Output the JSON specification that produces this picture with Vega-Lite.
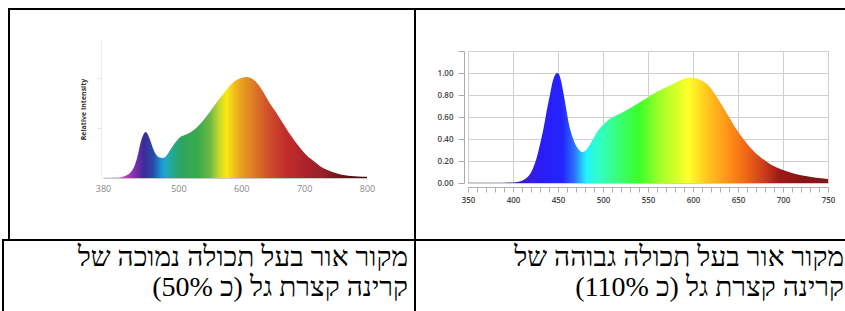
{
  "$schema": "https://vega.github.io/schema/vega-lite/v6.json",
  "width": 845,
  "height": 311,
  "autosize": {"type": "none"},
  "padding": 0,
  "background": "white",
  "config": {"view": {"stroke": null}},
  "datasets": {
    "low": [
      {"wl": 380, "v": 0.003}, {"wl": 390, "v": 0.003}, {"wl": 400, "v": 0.004}, {"wl": 405, "v": 0.006},
      {"wl": 410, "v": 0.01}, {"wl": 415, "v": 0.02}, {"wl": 420, "v": 0.035}, {"wl": 425, "v": 0.065},
      {"wl": 430, "v": 0.12}, {"wl": 435, "v": 0.22}, {"wl": 440, "v": 0.36}, {"wl": 444, "v": 0.43},
      {"wl": 448, "v": 0.46}, {"wl": 451, "v": 0.44}, {"wl": 455, "v": 0.38}, {"wl": 460, "v": 0.29},
      {"wl": 465, "v": 0.23}, {"wl": 470, "v": 0.205}, {"wl": 474, "v": 0.2}, {"wl": 478, "v": 0.205},
      {"wl": 484, "v": 0.25}, {"wl": 490, "v": 0.31}, {"wl": 497, "v": 0.37}, {"wl": 503, "v": 0.41},
      {"wl": 510, "v": 0.43}, {"wl": 520, "v": 0.46}, {"wl": 530, "v": 0.51}, {"wl": 540, "v": 0.58},
      {"wl": 550, "v": 0.66}, {"wl": 560, "v": 0.75}, {"wl": 570, "v": 0.83}, {"wl": 580, "v": 0.91},
      {"wl": 590, "v": 0.97}, {"wl": 600, "v": 1.0}, {"wl": 608, "v": 1.01}, {"wl": 615, "v": 1.0},
      {"wl": 625, "v": 0.95}, {"wl": 635, "v": 0.86}, {"wl": 645, "v": 0.75}, {"wl": 655, "v": 0.66},
      {"wl": 665, "v": 0.56}, {"wl": 675, "v": 0.46}, {"wl": 685, "v": 0.37}, {"wl": 695, "v": 0.29},
      {"wl": 705, "v": 0.22}, {"wl": 715, "v": 0.17}, {"wl": 725, "v": 0.12}, {"wl": 735, "v": 0.085},
      {"wl": 745, "v": 0.06}, {"wl": 755, "v": 0.04}, {"wl": 765, "v": 0.028}, {"wl": 775, "v": 0.02},
      {"wl": 785, "v": 0.015}, {"wl": 800, "v": 0.012}
    ],
    "high": [
      {"wl": 350, "v": 0.002}, {"wl": 370, "v": 0.002}, {"wl": 390, "v": 0.003}, {"wl": 400, "v": 0.005},
      {"wl": 405, "v": 0.01}, {"wl": 410, "v": 0.02}, {"wl": 415, "v": 0.045}, {"wl": 418, "v": 0.07},
      {"wl": 422, "v": 0.13}, {"wl": 426, "v": 0.22}, {"wl": 430, "v": 0.35}, {"wl": 434, "v": 0.5},
      {"wl": 438, "v": 0.68}, {"wl": 441, "v": 0.8}, {"wl": 444, "v": 0.92}, {"wl": 447, "v": 0.985},
      {"wl": 449, "v": 1.0}, {"wl": 451, "v": 0.99}, {"wl": 453, "v": 0.94}, {"wl": 456, "v": 0.82},
      {"wl": 459, "v": 0.68}, {"wl": 462, "v": 0.54}, {"wl": 466, "v": 0.42}, {"wl": 470, "v": 0.34},
      {"wl": 474, "v": 0.295}, {"wl": 477, "v": 0.28}, {"wl": 480, "v": 0.29}, {"wl": 484, "v": 0.33},
      {"wl": 489, "v": 0.4}, {"wl": 494, "v": 0.47}, {"wl": 499, "v": 0.52}, {"wl": 504, "v": 0.56},
      {"wl": 510, "v": 0.595}, {"wl": 520, "v": 0.635}, {"wl": 530, "v": 0.68}, {"wl": 540, "v": 0.73},
      {"wl": 550, "v": 0.78}, {"wl": 560, "v": 0.83}, {"wl": 570, "v": 0.87}, {"wl": 580, "v": 0.91},
      {"wl": 588, "v": 0.94}, {"wl": 595, "v": 0.96}, {"wl": 602, "v": 0.955}, {"wl": 610, "v": 0.93},
      {"wl": 618, "v": 0.88}, {"wl": 625, "v": 0.8}, {"wl": 632, "v": 0.71}, {"wl": 640, "v": 0.6},
      {"wl": 648, "v": 0.49}, {"wl": 656, "v": 0.4}, {"wl": 665, "v": 0.31}, {"wl": 675, "v": 0.235},
      {"wl": 685, "v": 0.175}, {"wl": 695, "v": 0.135}, {"wl": 705, "v": 0.105}, {"wl": 715, "v": 0.08},
      {"wl": 725, "v": 0.063}, {"wl": 735, "v": 0.05}, {"wl": 745, "v": 0.04}, {"wl": 750, "v": 0.037}
    ],
    "captions": [
      {"cell": "low", "line": 1, "text": "\u202bמקור אור בעל תכולה נמוכה של\u202c"},
      {"cell": "low", "line": 2, "text": "\u202bקרינה קצרת גל (כ 50%)\u202c"},
      {"cell": "high", "line": 1, "text": "\u202bמקור אור בעל תכולה גבוהה של\u202c"},
      {"cell": "high", "line": 2, "text": "\u202bקרינה קצרת גל (כ 110%)\u202c"}
    ]
  },
  "layer": [
    {
      "data": {"values": [{}]},
      "layer": [
        {"mark": {"type": "rule", "stroke": "black", "strokeWidth": 2},
         "encoding": {
           "x": {"datum": 9, "type": "quantitative", "scale": {"domain": [0, 845], "range": [0, 845], "nice": false, "zero": false}, "axis": null},
           "y": {"datum": 9, "type": "quantitative", "scale": {"domain": [0, 311], "range": [0, 311], "nice": false, "zero": false}, "axis": null},
           "y2": {"datum": 240}}},
        {"mark": {"type": "rule", "stroke": "black", "strokeWidth": 2},
         "encoding": {
           "x": {"datum": 3, "type": "quantitative"},
           "y": {"datum": 240, "type": "quantitative"},
           "y2": {"datum": 311}}},
        {"mark": {"type": "rule", "stroke": "black", "strokeWidth": 2},
         "encoding": {
           "x": {"datum": 415, "type": "quantitative"},
           "y": {"datum": 8, "type": "quantitative"},
           "y2": {"datum": 311}}},
        {"mark": {"type": "rule", "stroke": "black", "strokeWidth": 2},
         "encoding": {
           "x": {"datum": 8, "type": "quantitative"},
           "x2": {"datum": 845},
           "y": {"datum": 9, "type": "quantitative"}}},
        {"mark": {"type": "rule", "stroke": "black", "strokeWidth": 2},
         "encoding": {
           "x": {"datum": 2, "type": "quantitative"},
           "x2": {"datum": 845},
           "y": {"datum": 240, "type": "quantitative"}}}
      ]
    },
    {
      "data": {"name": "low"},
      "mark": {
        "type": "area",
        "interpolate": "monotone",
        "color": {
          "gradient": "linear",
          "stops": [
            {"offset": 0, "color": "#b8b0c0"},
            {"offset": 0.048, "color": "#c8a0d0"},
            {"offset": 0.083, "color": "#c040c0"},
            {"offset": 0.119, "color": "#8030b0"},
            {"offset": 0.155, "color": "#3c2a98"},
            {"offset": 0.19, "color": "#2a4aa8"},
            {"offset": 0.219, "color": "#1c8fd0"},
            {"offset": 0.238, "color": "#20a8c8"},
            {"offset": 0.262, "color": "#22a890"},
            {"offset": 0.298, "color": "#2ea560"},
            {"offset": 0.357, "color": "#38aa4c"},
            {"offset": 0.405, "color": "#6ab844"},
            {"offset": 0.44, "color": "#c8d830"},
            {"offset": 0.469, "color": "#fbea10"},
            {"offset": 0.495, "color": "#f2c21c"},
            {"offset": 0.524, "color": "#e8a020"},
            {"offset": 0.571, "color": "#dd7a26"},
            {"offset": 0.631, "color": "#cf4c2a"},
            {"offset": 0.69, "color": "#c22e2c"},
            {"offset": 0.762, "color": "#b0222c"},
            {"offset": 0.833, "color": "#962028"},
            {"offset": 0.905, "color": "#6a1418"},
            {"offset": 1, "color": "#3a0a0c"}
          ]
        }
      },
      "encoding": {
        "x": {
          "field": "wl", "type": "quantitative",
          "scale": {"domain": [380, 800], "range": [103, 367], "nice": false, "zero": false},
          "axis": {
            "orient": "bottom", "offset": -133, "values": [380, 500, 600, 700, 800],
            "ticks": false, "domain": true, "domainColor": "#c8c8c8", "grid": false,
            "labelFont": "Open Sans", "labelFontSize": 9, "labelColor": "#888", "labelPadding": 6,
            "labelFlush": false, "labelOverlap": false, "title": null
          }
        },
        "y": {
          "field": "v", "type": "quantitative",
          "scale": {"domain": [0, 1.38], "range": [178, 40], "nice": false},
          "axis": {
            "orient": "left", "offset": -101, "values": [0.5, 1], "labels": false,
            "tickSize": 4, "tickColor": "#e4e4e4", "domainColor": "#ececec", "grid": false,
            "title": "Relative Intensity", "titleFont": "Open Sans", "titleFontSize": 7,
            "titleFontWeight": "bold", "titleColor": "#333", "titlePadding": 10
          }
        }
      }
    },
    {
      "data": {"name": "high"},
      "layer": [
        {
          "mark": {
            "type": "area",
            "interpolate": "monotone",
            "color": {
              "gradient": "linear",
              "stops": [
                {"offset": 0, "color": "#303050"},
                {"offset": 0.125, "color": "#302060"},
                {"offset": 0.1625, "color": "#3a1ae0"},
                {"offset": 0.2, "color": "#2a1cf5"},
                {"offset": 0.2625, "color": "#2424ff"},
                {"offset": 0.295, "color": "#2a70ff"},
                {"offset": 0.3275, "color": "#22f2ff"},
                {"offset": 0.3625, "color": "#30ffc8"},
                {"offset": 0.4125, "color": "#38ff80"},
                {"offset": 0.475, "color": "#3cff28"},
                {"offset": 0.5375, "color": "#a8ff28"},
                {"offset": 0.6125, "color": "#ffff28"},
                {"offset": 0.6625, "color": "#ffc81e"},
                {"offset": 0.725, "color": "#ff9018"},
                {"offset": 0.775, "color": "#f06418"},
                {"offset": 0.825, "color": "#c83a1c"},
                {"offset": 0.8625, "color": "#a01a18"},
                {"offset": 0.925, "color": "#8a1414"},
                {"offset": 1, "color": "#7a1a1a"}
              ]
            }
          },
          "encoding": {
            "x": {
              "field": "wl", "type": "quantitative",
              "scale": {"domain": [350, 750], "range": [468, 828], "nice": false, "zero": false},
              "axis": {
                "orient": "bottom", "offset": -124,
                "values": [350, 360, 370, 380, 390, 400, 410, 420, 430, 440, 450, 460, 470, 480, 490, 500, 510, 520, 530, 540, 550, 560, 570, 580, 590, 600, 610, 620, 630, 640, 650, 660, 670, 680, 690, 700, 710, 720, 730, 740, 750],
                "labelExpr": "datum.value % 50 === 0 ? datum.label : ''",
                "tickSize": 5, "tickColor": "#b0b0b0", "domainColor": "#b0b0b0",
                "grid": false,
                "labelFont": "Open Sans", "labelFontSize": 8, "labelFontWeight": 600, "labelColor": "#444",
                "labelPadding": 4, "labelFlush": false, "labelOverlap": false, "title": null
              }
            },
            "y": {
              "field": "v", "type": "quantitative",
              "scale": {"domain": [0, 1.2], "range": [183, 51], "nice": false},
              "axis": {
                "orient": "left", "offset": -464, "values": [0, 0.2, 0.4, 0.6, 0.8, 1, 1.2],
                "format": ".2f", "labelExpr": "datum.value > 1.1 ? '' : datum.label",
                "tickSize": 6, "tickColor": "#aaa", "domainColor": "#aaa",
                "grid": true, "gridColor": "#cfcfcf",
                "labelFont": "Open Sans", "labelFontSize": 8, "labelFontWeight": 600, "labelColor": "#444",
                "labelPadding": 5, "labelOverlap": false, "title": null
              }
            }
          }
        },
        {
          "mark": {"type": "point", "opacity": 0},
          "encoding": {
            "x": {
              "field": "wl", "type": "quantitative",
              "axis": {
                "orient": "top", "values": [350, 400, 450, 500, 550, 600, 650, 700, 750],
                "grid": true, "gridColor": "#cfcfcf", "labels": false, "ticks": false,
                "domain": false, "title": null
              }
            },
            "y": {"field": "v", "type": "quantitative", "axis": null}
          }
        }
      ],
      "resolve": {"axis": {"x": "independent", "y": "independent"}}
    },
    {
      "data": {"name": "captions"},
      "mark": {"type": "text", "align": "right", "baseline": "alphabetic", "font": "Liberation Serif", "fontSize": 28, "color": "black"},
      "encoding": {
        "x": {"field": "cell", "type": "nominal", "scale": {"type": "point", "domain": ["low", "high"], "range": [408, 844], "padding": 0}, "axis": null},
        "y": {"field": "line", "type": "ordinal", "scale": {"type": "point", "domain": [1, 2], "range": [266, 296], "padding": 0}, "axis": null},
        "text": {"field": "text"}
      }
    }
  ],
  "resolve": {
    "scale": {"x": "independent", "y": "independent"},
    "axis": {"x": "independent", "y": "independent"}
  }
}
